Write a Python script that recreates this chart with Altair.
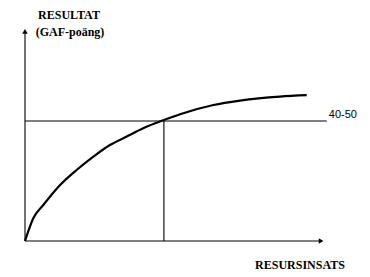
import altair as alt
import pandas as pd

# Curve: resursinsats (x) vs resultat (y), arbitrary units 0-100
curve_x = [0, 2.8, 6.1, 11.7, 17.2, 22.8, 28.3, 33.9, 39.4, 46.3, 51.7, 62.8, 71.7, 85.0, 93.9]
curve_y = [0, 11.5, 18.0, 28.0, 35.5, 42.2, 48.0, 52.2, 56.4, 60.5, 63.4, 68.0, 70.2, 72.2, 72.9]

level_y = 60.0          # GAF level 40-50
level_x = 46.3          # resource input at that level
level_end = 100.6
x_axis_end = 98.7
y_axis_end = 104.8
level_label = "40-50"
x_title = "RESURSINSATS"
y_title_lines = ["RESULTAT", "(GAF-poäng)"]

xs = alt.Scale(domain=[0, 100], range=[25, 325])
ys = alt.Scale(domain=[0, 100], range=[241, 41])

curve = pd.DataFrame({"x": curve_x, "y": curve_y})

line = alt.Chart(curve).mark_line(color="black", strokeWidth=2.2, interpolate="monotone", clip=False).encode(
    x=alt.X("x:Q", scale=xs, axis=None),
    y=alt.Y("y:Q", scale=ys, axis=None),
)

# segments: axes and reference lines
segs = pd.DataFrame({
    "x": [0, 0, 0, level_x],
    "x2": [x_axis_end - 0.3, 0, level_end, level_x],
    "y": [0, 0, level_y, 0],
    "y2": [0, y_axis_end - 0.3, level_y, level_y],
    "w": [1.2, 1.2, 1.0, 1.0],
})
rules = alt.Chart(segs).mark_rule(color="black", strokeWidth=1.1).encode(
    x=alt.X("x:Q", scale=xs, axis=None), x2="x2:Q",
    y=alt.Y("y:Q", scale=ys, axis=None), y2="y2:Q",
)

arrows = pd.DataFrame({
    "x": [x_axis_end, 0],
    "y": [0, y_axis_end],
    "s": ["triangle-right", "triangle-up"],
})
arrow_marks = alt.Chart(arrows).mark_point(filled=True, color="black", size=30, opacity=1).encode(
    x=alt.X("x:Q", scale=xs, axis=None),
    y=alt.Y("y:Q", scale=ys, axis=None),
    shape=alt.Shape("s:N", scale=None, legend=None),
)

lbl = pd.DataFrame({"x": [level_end], "y": [level_y], "t": [level_label]})
lvl_text = alt.Chart(lbl).mark_text(font="Liberation Sans", fontSize=11, align="left",
                                    baseline="bottom", dx=2, dy=-1, color="black").encode(
    x=alt.X("x:Q", scale=xs, axis=None), y=alt.Y("y:Q", scale=ys, axis=None), text="t:N"
)

titles = pd.DataFrame({"t": [x_title, y_title_lines[0], y_title_lines[1]],
                       "px": [300, 69, 70], "py": [265, 15, 32]})
title_marks = alt.Chart(titles).mark_text(font="Liberation Serif", fontWeight="bold", fontSize=12,
                                          align="center", baseline="middle", color="black").encode(
    x=alt.X("px:Q", scale=None), y=alt.Y("py:Q", scale=None), text="t:N"
)

chart = alt.layer(rules, arrow_marks, line, lvl_text, title_marks).properties(
    width=370, height=277, padding=0, autosize=alt.AutoSizeParams(type="none"),
    background="white"
).configure_view(stroke=None)

chart.save("out.html", embed_options={"renderer": "svg", "actions": False})
